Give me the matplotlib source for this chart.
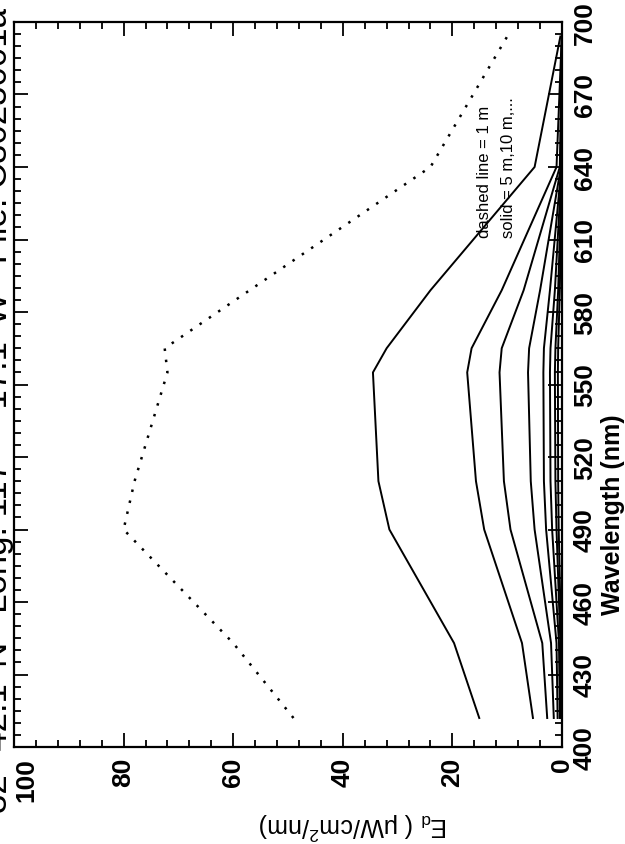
import matplotlib
matplotlib.use("Agg")
import matplotlib.pyplot as plt
from matplotlib.ticker import FixedLocator

# downwelling irradiance profile, plot is drawn turned on its side
wavelength = [412, 443, 490, 510, 555, 565, 589, 640, 694]
ed_1m = [49, 60, 80, 78, 72, 72.5, 57, 24, 10]
ed_5m = [15.1, 19.7, 31.5, 33.5, 34.5, 32, 24, 5, 0.3]
ed_10m = [5.3, 7.3, 14.2, 15.7, 17.3, 16.5, 11, 1.0, 0.05]
ed_15m = [2.7, 3.6, 9.4, 10.6, 11.4, 11, 7, 0.4, 0.02]
ed_20m = [1.5, 2.0, 5.0, 5.7, 6.2, 6.0, 4.0, 0.2, 0.01]
ed_25m = [0.8, 1.0, 2.9, 3.3, 3.4, 3.3, 2.2, 0.1, 0]
ed_30m = [0.4, 0.55, 1.8, 2.1, 2.2, 2.1, 1.3, 0.05, 0]
ed_35m = [0.2, 0.3, 1.0, 1.2, 1.3, 1.2, 0.7, 0.02, 0]
ed_40m = [0.1, 0.15, 0.6, 0.7, 0.75, 0.7, 0.4, 0.01, 0]
ed_solid = [ed_5m, ed_10m, ed_15m, ed_20m, ed_25m, ed_30m, ed_35m, ed_40m]

wl_ticks = list(range(400, 701, 30))
ed_ticks = [0, 20, 40, 60, 80, 100]

plt.rcParams['font.family'] = ['Liberation Sans', 'DejaVu Sans']
plt.rcParams['mathtext.default'] = 'regular'

fig = plt.figure(figsize=(6.25, 8.45), dpi=100)
ax = fig.add_axes([14 / 625, 1 - 748 / 845, 548 / 625, 725 / 845])

ax.plot(ed_1m, wavelength, color='black', linestyle=(0, (1, 3.5)), lw=1.8)
for ed in ed_solid:
    ax.plot(ed, wavelength, color='black', lw=1.4)

ax.set_xlim(100, 0)
ax.set_ylim(400, 700)
ax.xaxis.set_major_locator(FixedLocator(ed_ticks))
ax.xaxis.set_minor_locator(FixedLocator(list(range(0, 101, 4))))
ax.yaxis.set_major_locator(FixedLocator(wl_ticks))
ax.yaxis.set_minor_locator(FixedLocator(list(range(400, 701, 5))))
ax.tick_params(which='both', direction='in', top=True, right=True, left=True, bottom=True,
               labelleft=False, labelright=True, width=1.3)
ax.tick_params(which='major', length=10)
ax.tick_params(which='minor', length=5)
ax.tick_params(axis='x', pad=7)
ax.tick_params(axis='y', pad=8)
for lab in ax.get_xticklabels() + ax.get_yticklabels():
    lab.set_rotation(90)
    lab.set_fontsize(19)
    lab.set_fontweight('bold')
for lab in ax.get_xticklabels():
    lab.set_va('top')
    lab.set_ha('center')
# the "100" label sits just inside the frame corner
ax.get_xticklabels()[-1].set_ha('left')
for lab in ax.get_yticklabels():
    lab.set_va('center')
    lab.set_ha('left')
for sp in ax.spines.values():
    sp.set_linewidth(1.6)

fig.text(613 / 625, 1 - 515 / 845, 'Wavelength (nm)', rotation=90, fontsize=18,
         fontweight='bold', ha='center', va='center')
fig.text(353 / 625, 1 - 826 / 845, 'E$_d$ ( \u03bcW/cm$^2$/nm)', rotation=180, fontsize=18,
         ha='center', va='center')
fig.text(492 / 625, 1 - 238 / 845, 'dashed line = 1 m', rotation=90, fontsize=12,
         ha='right', va='bottom')
fig.text(516 / 625, 1 - 238 / 845, 'solid = 5 m,10 m,...', rotation=90, fontsize=12,
         ha='right', va='bottom')
# station header, mostly cut off by the left edge as in the scan
fig.text(14 / 625, 1 - 8 / 845,
         "32\u00b0 42.1' N   Long: 117\u00b0    17.1' W   File: C8025001a",
         rotation=90, fontsize=25, ha='right', va='top')

fig.savefig('out.png', dpi=100)
